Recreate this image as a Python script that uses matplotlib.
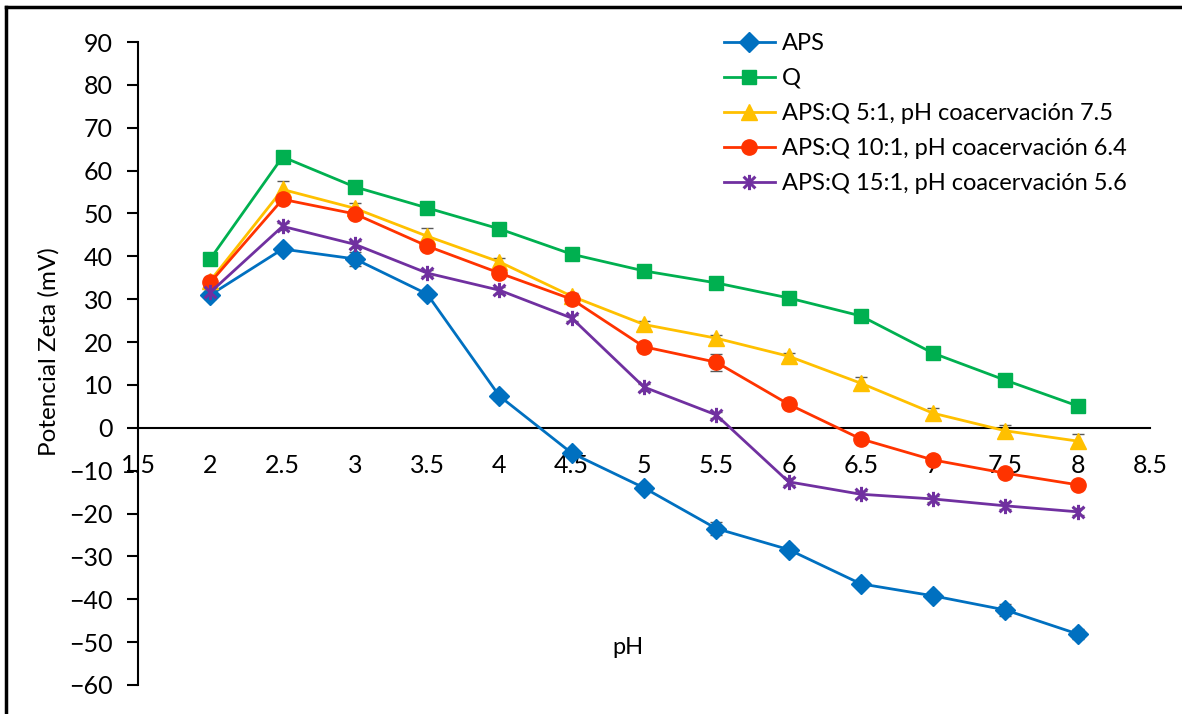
import numpy as np
import matplotlib
matplotlib.use("Agg")
import matplotlib.pyplot as plt
from matplotlib.path import Path
from matplotlib.lines import Line2D

plt.rcParams["font.family"] = ["Lato", "DejaVu Sans"]

ph = [2, 2.5, 3, 3.5, 4, 4.5, 5, 5.5, 6, 6.5, 7, 7.5, 8]

aps = [31.0, 41.7, 39.4, 31.2, 7.4, -5.9, -14.0, -23.5, -28.4, -36.4, -39.2, -42.5, -48.1]
q = [39.4, 63.2, 56.2, 51.3, 46.4, 40.5, 36.6, 33.8, 30.3, 26.1, 17.4, 11.1, 5.1]
mix_5 = [34.3, 55.6, 51.2, 44.7, 38.7, 30.7, 24.1, 20.9, 16.7, 10.4, 3.4, -0.7, -3.1]
mix_10 = [33.9, 53.3, 49.9, 42.4, 36.1, 30.0, 18.9, 15.3, 5.5, -2.6, -7.5, -10.6, -13.3]
mix_15 = [31.6, 47.0, 42.8, 36.1, 32.1, 25.6, 9.5, 3.0, -12.6, -15.5, -16.6, -18.2, -19.6]

err_aps = [1.0, 0.8, 1.6, 0.8, 0.8, 0.8, 0.8, 1.6, 0.8, 0.8, 0.8, 1.4, 1.2]
err_q = [0.8, 0.8, 0.8, 0.8, 0.8, 0.8, 0.8, 0.8, 0.8, 0.8, 0.8, 0.8, 0.8]
err_5 = [0.8, 2.0, 1.2, 2.0, 1.0, 0.8, 0.8, 0.8, 0.8, 1.4, 1.2, 1.4, 1.6]
err_10 = [0.8, 0.8, 0.8, 0.8, 0.8, 1.0, 0.8, 2.0, 0.8, 0.8, 0.8, 0.8, 0.8]
err_15 = [0.8, 0.8, 0.8, 0.8, 0.8, 0.8, 0.8, 0.8, 0.8, 0.8, 0.8, 0.8, 0.8]

labels = ["APS", "Q", "APS:Q 5:1, pH coacervación 7.5",
          "APS:Q 10:1, pH coacervación 6.4", "APS:Q 15:1, pH coacervación 5.6"]
x_ticks = [1.5, 2, 2.5, 3, 3.5, 4, 4.5, 5, 5.5, 6, 6.5, 7, 7.5, 8, 8.5]
y_ticks = list(range(-60, 91, 10))

# excel "star" marker: an X with a vertical bar through it
star = Path([(-1, -1), (1, 1), (-1, 1), (1, -1), (0, -1.3), (0, 1.3)],
            [Path.MOVETO, Path.LINETO, Path.MOVETO, Path.LINETO, Path.MOVETO, Path.LINETO])

series = [
    (aps, err_aps, "#0070C0", "D", 10),
    (q, err_q, "#00B050", "s", 10),
    (mix_5, err_5, "#FFC000", "^", 12),
    (mix_10, err_10, "#FF3300", "o", 11),
    (mix_15, err_15, "#7030A0", star, 11),
]

W, H = 1182, 714
fig = plt.figure(figsize=(W / 100, H / 100), dpi=100)
ax = fig.add_axes([138 / W, 1 - 685 / H, (1150 - 138) / W, (685 - 42) / H])

for (vals, err, c, m, ms), lab in zip(series, labels):
    ax.errorbar(ph, vals, yerr=err, fmt="none", ecolor="#595959", elinewidth=1,
                capsize=4, capthick=1, zorder=2)
    ax.plot(ph, vals, color=c, lw=2, marker=m, ms=ms, mfc=c, mec=c,
            mew=2.2 if m is star else 1, label=lab, zorder=3)

ax.set_xlim(1.5, 8.5)
ax.set_ylim(-60, 90)
ax.set_xticks(x_ticks)
ax.set_xticklabels([f"{v:g}" for v in x_ticks])
ax.set_yticks(y_ticks)
ax.spines[["top", "right"]].set_visible(False)
ax.spines["bottom"].set_position(("data", 0))
ax.spines["left"].set_linewidth(1.5)
ax.spines["bottom"].set_linewidth(1.5)
ax.tick_params(axis="x", length=0, pad=19, labelsize=18)
ax.tick_params(axis="y", direction="out", length=8, width=1.5, pad=10, labelsize=18)

fig.text(49 / W, 1 - 352 / H, "Potencial Zeta (mV)", rotation=90, fontsize=17.5,
         ha="center", va="center")
fig.text(628 / W, 1 - 647 / H, "pH", fontsize=17, ha="center", va="center")

ax.legend(loc="upper left", bbox_to_anchor=(712 / W, 1 - 21 / H),
          bbox_transform=fig.transFigure, frameon=False, fontsize=17,
          handlelength=2.15, handletextpad=0.3, labelspacing=0.6, borderpad=0)

# outer frame, cropped on the right and bottom like the source image
fig.add_artist(Line2D([5.5 / W, 5.5 / W], [0, 1 - 7 / H], transform=fig.transFigure,
                      color="black", lw=2.5))
fig.add_artist(Line2D([5.5 / W, 1], [1 - 7 / H, 1 - 7 / H], transform=fig.transFigure,
                      color="black", lw=2.5))

fig.savefig("out.png", dpi=100)
